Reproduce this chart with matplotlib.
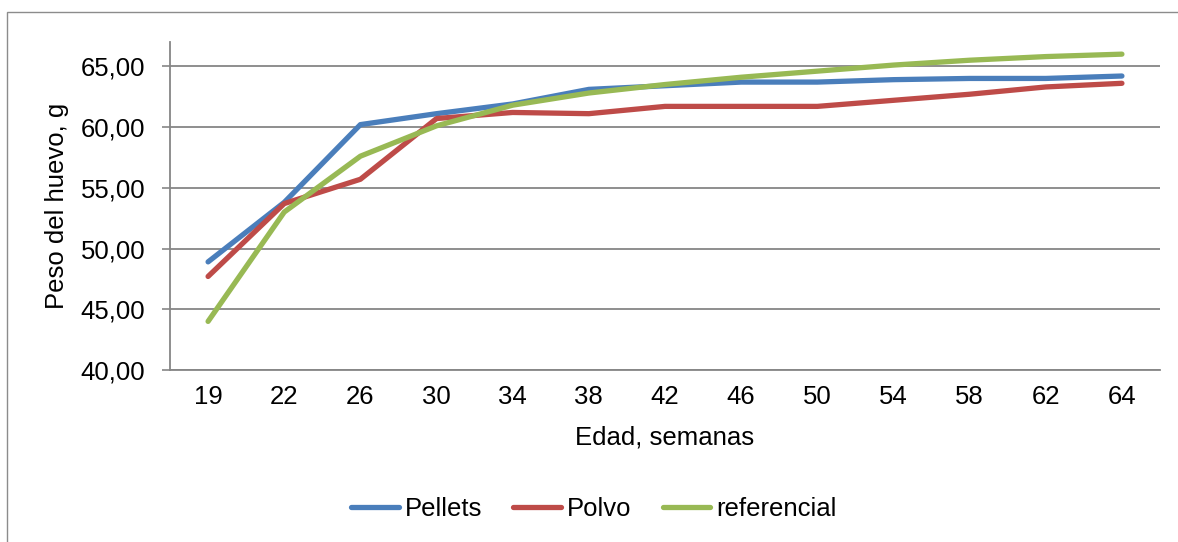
import matplotlib
matplotlib.use("Agg")
import matplotlib.pyplot as plt
from matplotlib.patches import Rectangle

semanas = ["19", "22", "26", "30", "34", "38", "42", "46", "50", "54", "58", "62", "64"]
pellets = [48.9, 53.8, 60.2, 61.1, 61.9, 63.1, 63.4, 63.7, 63.7, 63.9, 64.0, 64.0, 64.2]
polvo = [47.7, 53.7, 55.7, 60.7, 61.2, 61.1, 61.7, 61.7, 61.7, 62.2, 62.7, 63.3, 63.6]
referencial = [44.0, 53.0, 57.6, 60.1, 61.8, 62.8, 63.5, 64.1, 64.6, 65.1, 65.5, 65.8, 66.0]
yticks = [40, 45, 50, 55, 60, 65]

plt.rcParams['font.family'] = ['Liberation Sans', 'DejaVu Sans']
fs = 18.5

fig = plt.figure(figsize=(11.78, 5.42), dpi=100)
ax = fig.add_axes([170/1178, 1-370/542, (1160-170)/1178, (370-42)/542])

x = list(range(len(semanas)))
ax.plot(x, pellets, color='#4A7EBB', lw=3.8, solid_capstyle='round', label='Pellets', zorder=3)
ax.plot(x, polvo, color='#BE4B48', lw=3.8, solid_capstyle='round', label='Polvo', zorder=3)
ax.plot(x, referencial, color='#98B954', lw=3.8, solid_capstyle='round', label='referencial', zorder=3)

ax.set_xlim(-0.5, len(semanas)-0.5)
ax.set_ylim(40, 67)
ax.set_yticks(yticks)
ax.set_yticklabels([f"{v:.2f}".replace('.', ',') for v in yticks], fontsize=fs)
ax.set_xticks(x)
ax.set_xticklabels(semanas, fontsize=fs)
ax.tick_params(axis='x', length=0, pad=11)
ax.tick_params(axis='y', length=5.8, width=1.2, color='#868686', pad=12)
ax.grid(axis='y', color='#868686', lw=1.3)
ax.set_axisbelow(True)
for s in ['top', 'right']:
    ax.spines[s].set_visible(False)
for s in ['left', 'bottom']:
    ax.spines[s].set_color('#868686')
    ax.spines[s].set_linewidth(1.3)

fig.text(665/1178, 1-437/542, 'Edad, semanas', fontsize=fs, ha='center', va='center')
fig.text(57/1178, 1-206/542, 'Peso del huevo, g', fontsize=fs, ha='center', va='center', rotation=90)

fig.legend(loc='center', bbox_to_anchor=(594/1178, 1-509/542), ncol=3, frameon=False,
           fontsize=fs, handlelength=1.85, handletextpad=0.25, columnspacing=1.2)

fig.patches.append(Rectangle((7/1178, -0.1), 2, 1.1-12/542, transform=fig.transFigure,
                             fill=False, edgecolor='#8c8c8c', lw=1.0))

fig.savefig('out.png', dpi=100)
